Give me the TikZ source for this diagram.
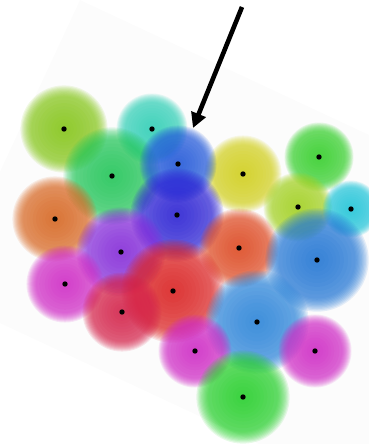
\documentclass[tikz,border=0pt]{standalone}
\usetikzlibrary{arrows.meta}
\definecolor{cLime}{RGB}{135,200,25}
\definecolor{cTeal}{RGB}{50,210,185}
\definecolor{cBlueA}{RGB}{35,90,220}
\definecolor{cGreenA}{RGB}{35,200,90}
\definecolor{cYellow}{RGB}{212,210,30}
\definecolor{cGreenB}{RGB}{55,210,45}
\definecolor{cYellowGreen}{RGB}{165,212,35}
\definecolor{cCyan}{RGB}{35,200,220}
\definecolor{cOrange}{RGB}{218,105,35}
\definecolor{cIndigo}{RGB}{45,35,215}
\definecolor{cViolet}{RGB}{135,45,220}
\definecolor{cOrangeRed}{RGB}{225,75,35}
\definecolor{cBlueB}{RGB}{35,120,215}
\definecolor{cMagenta}{RGB}{210,45,200}
\definecolor{cRed}{RGB}{222,35,35}
\definecolor{cCrimson}{RGB}{215,35,75}
\definecolor{cBlueC}{RGB}{45,135,220}
\definecolor{cGreenC}{RGB}{40,210,45}
% soft blob: concentric layers of low opacity
\newcommand{\softblob}[4]{%
  \foreach \k in {0,...,9}{%
    \fill[#1, fill opacity=0.085] (#2,#3) circle[radius={#4*(0.08+0.075*\k)}];
  }%
  \foreach \k in {0,...,9}{%
    \fill[#1, fill opacity=0.115] (#2,#3) circle[radius={#4*(0.78+0.026*\k)}];
  }%
}
\begin{document}
\begin{tikzpicture}[x=1pt,y=-1pt,
  dot/.style={circle, fill=black, inner sep=0pt, minimum size=5.4pt},
  pointer/.style={line width=4.6pt, -{Triangle[length=15pt,width=15pt]}}]
\useasboundingbox (0,0) rectangle (369,444);
\begin{scope}
\clip (0,0) rectangle (369,444);
\fill[black!1.2] (80,0) -- (624,254) -- (486,550) -- (-58,296) -- cycle;
\end{scope}
% blobs
\softblob{cLime}{64}{129}{43}
\softblob{cTeal}{152}{129}{35}
\softblob{cGreenB}{319}{157}{34}
\softblob{cGreenA}{112}{176}{48}
\softblob{cYellow}{243}{174}{38}
\softblob{cYellowGreen}{298}{207}{34}
\softblob{cCyan}{351}{209}{28}
\softblob{cBlueA}{178}{164}{38}
\softblob{cOrange}{55}{219}{42}
\softblob{cIndigo}{177}{215}{46}
\softblob{cViolet}{121}{252}{44}
\softblob{cOrangeRed}{239}{248}{39}
\softblob{cBlueB}{317}{260}{51}
\softblob{cMagenta}{65}{284}{38}
\softblob{cRed}{173}{291}{51}
\softblob{cCrimson}{122}{312}{39}
\softblob{cBlueC}{257}{322}{51}
\softblob{cMagenta}{195}{351}{36}
\softblob{cMagenta}{315}{351}{36}
\softblob{cGreenC}{243}{397}{46}
% centre dots
\node[dot] (d1) at (64,129) {};
\node[dot] (d2) at (152,129) {};
\node[dot] (d3) at (178,164) {};
\node[dot] (d4) at (112,176) {};
\node[dot] (d5) at (243,174) {};
\node[dot] (d6) at (319,157) {};
\node[dot] (d7) at (298,207) {};
\node[dot] (d8) at (351,209) {};
\node[dot] (d9) at (55,219) {};
\node[dot] (d10) at (177,215) {};
\node[dot] (d11) at (121,252) {};
\node[dot] (d12) at (239,248) {};
\node[dot] (d13) at (317,260) {};
\node[dot] (d14) at (65,284) {};
\node[dot] (d15) at (173,291) {};
\node[dot] (d16) at (122,312) {};
\node[dot] (d17) at (257,322) {};
\node[dot] (d18) at (195,351) {};
\node[dot] (d19) at (315,351) {};
\node[dot] (d20) at (243,397) {};
% arrow
\coordinate (arrowStart) at (242,7);
\coordinate (arrowTip) at (193,128);
\draw[pointer] (arrowStart) -- (arrowTip);
\end{tikzpicture}
\end{document}
